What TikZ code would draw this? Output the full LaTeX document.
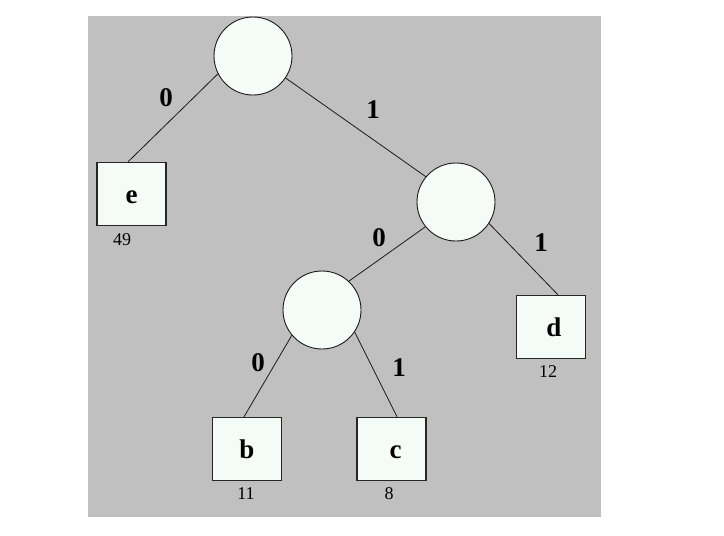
\documentclass[tikz,border=0pt]{standalone}
\usepackage{fontspec}
\setmainfont{Liberation Serif}
\definecolor{nodefill}{HTML}{F5FCF8}
\definecolor{bggray}{HTML}{C0C0C0}
\begin{document}
\begin{tikzpicture}[x=1pt,y=-1pt,
  inner/.style={circle,draw=black!90,line width=0.9pt,fill=nodefill,minimum size=78pt,inner sep=0pt},
  leaf/.style={rectangle,draw=black!85,line width=1.3pt,fill=nodefill,minimum width=69pt,minimum height=63pt,inner sep=0pt,font=\fontsize{27}{27}\selectfont\bfseries},
  bit/.style={font=\fontsize{27}{27}\selectfont\bfseries,inner sep=0pt},
  weight/.style={font=\fontsize{18}{18}\selectfont,inner sep=0pt},
  edgeline/.style={draw=black!90,line width=0.8pt}]
\useasboundingbox (0,0) rectangle (724,536);
\fill[white] (0,0) rectangle (724,536);
\fill[bggray] (88,16) rectangle (601,517);

% internal nodes
\node[inner] (root) at (253,56) {};
\node[inner] (n1) at (456,202) {};
\node[inner] (n10) at (322,310) {};

% leaves
\node[leaf] (e) at (131.5,194) {\raisebox{-3pt}[\height][0pt]{e}};
\node[leaf] (d) at (551,327) {\hspace*{6pt}d};
\node[leaf] (b) at (247,449) {b};
\node[leaf] (c) at (391.5,449) {\hspace*{8pt}\raisebox{-3pt}[\height][0pt]{c}};

% weights
\node[weight] (we) at (122,240) {49};
\node[weight] (wd) at (548,372) {12};
\node[weight] (wb) at (246,494) {11};
\node[weight] (wc) at (389,494) {8};

% edges
\draw[edgeline] (root.207) -- ([xshift=-3.5pt]e.north);
\draw[edgeline] (root.326) -- (n1.140);
\draw[edgeline] (n1.219) -- (n10.47);
\draw[edgeline] (n1.327) -- ([xshift=7pt]d.north);
\draw[edgeline] (n10.220) -- ([xshift=-3pt]b.north);
\draw[edgeline] (n10.326) -- ([xshift=5.5pt]c.north);

% edge labels
\node[bit] (l0a) at (166,98) {0};
\node[bit] (l1a) at (373,110) {1};
\node[bit] (l0b) at (379,238) {0};
\node[bit] (l1b) at (541,243) {1};
\node[bit] (l0c) at (258,363) {0};
\node[bit] (l1c) at (399,368) {1};
\end{tikzpicture}
\end{document}
